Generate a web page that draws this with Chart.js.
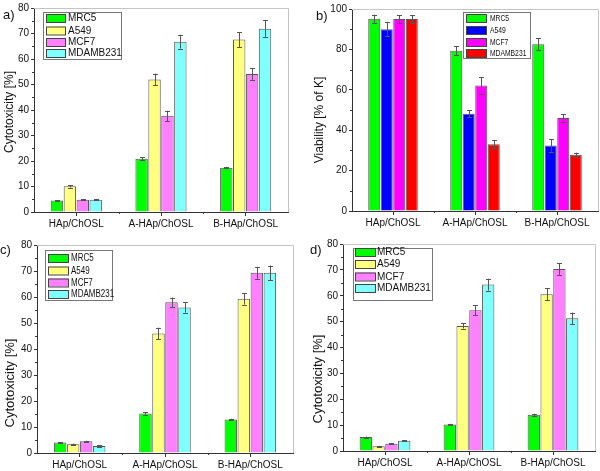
<!DOCTYPE html>
<html>
<head>
<meta charset="utf-8">
<script src="https://cdn.jsdelivr.net/npm/chart.js@4.4.1/dist/chart.umd.min.js"></script>
<style>
  html, body { margin:0; padding:0; background:#fff; }
  #wrap { position:relative; width:600px; height:471px; }
  .panel { position:absolute; }
  .panel canvas { display:block; }
</style>
</head>
<body>
<div id="wrap">
  <div class="panel" style="left:0;top:0"><canvas id="cA" width="300" height="235"></canvas></div>
  <div class="panel" style="left:300px;top:0"><canvas id="cB" width="300" height="235"></canvas></div>
  <div class="panel" style="left:0;top:235px"><canvas id="cC" width="300" height="236"></canvas></div>
  <div class="panel" style="left:300px;top:235px"><canvas id="cD" width="300" height="236"></canvas></div>
</div>
<script>
// ---------- Datos ----------
const categories = ["HAp/ChOSL", "A-HAp/ChOSL", "B-HAp/ChOSL"];
const cellLines  = ["MRC5", "A549", "MCF7", "MDAMB231"];

// colores
const cytoColors = ["#00ff00", "#ffff80", "#ff80ff", "#80ffff"];
const viabColors = ["#00ff00", "#0000ff", "#ff00ff", "#ff0000"];

// a) citotoxicidad [%]
const a_MRC5  = [4.5, 20.9, 17.4],  a_MRC5_err  = [0.2, 0.5, 0.3];
const a_A549  = [10.1, 52.0, 67.6], a_A549_err  = [0.5, 2.3, 3.0];
const a_MCF7  = [4.8, 37.7, 54.1],  a_MCF7_err  = [0.2, 2.0, 2.3];
const a_MDAMB = [4.8, 66.8, 71.9],  a_MDAMB_err = [0.2, 2.7, 3.2];

// b) viabilidad [% of K]
const b_MRC5  = [95.2, 79.3, 82.6], b_MRC5_err  = [2.0, 2.3, 3.0];
const b_A549  = [90.0, 48.1, 32.4], b_A549_err  = [3.5, 1.8, 3.0];
const b_MCF7  = [95.0, 62.1, 46.1], b_MCF7_err  = [2.0, 4.0, 1.8];
const b_MDAMB = [95.0, 33.0, 27.9], b_MDAMB_err = [2.0, 2.0, 1.0];

// c) citotoxicidad [%]
const c_MRC5  = [4.0, 15.2, 12.9], c_MRC5_err  = [0.2, 0.5, 0.3];
const c_A549  = [3.4, 46.0, 59.3], c_A549_err  = [0.2, 2.2, 2.2];
const c_MCF7  = [4.5, 58.0, 69.3], c_MCF7_err  = [0.2, 1.8, 2.3];
const c_MDAMB = [2.7, 56.0, 69.3], c_MDAMB_err = [0.2, 2.0, 2.8];

// d) citotoxicidad [%]
const d_MRC5  = [5.4, 10.2, 14.0], d_MRC5_err  = [0.2, 0.3, 0.4];
const d_A549  = [1.8, 48.3, 60.6], d_A549_err  = [0.2, 1.0, 2.3];
const d_MCF7  = [2.8, 54.4, 70.3], d_MCF7_err  = [0.2, 2.0, 2.2];
const d_MDAMB = [4.0, 64.3, 51.3], d_MDAMB_err = [0.2, 2.3, 2.2];

const yTicksCyto = [0, 10, 20, 30, 40, 50, 60, 70, 80];
const yTicksViab = [0, 20, 40, 60, 80, 100];

const FONT = "'Liberation Sans', Arial, sans-serif";

// ---------- Plugin: barras de error, marco, leyenda, títulos ----------
const decoPlugin = {
  id: "deco",
  afterDatasetsDraw(chart) {
    const ctx = chart.ctx, y = chart.scales.y;
    const errs = chart.options.plugins.deco.errors;
    ctx.save();
    ctx.strokeStyle = "#555";
    ctx.lineWidth = 1;
    chart.data.datasets.forEach((ds, i) => {
      const meta = chart.getDatasetMeta(i);
      meta.data.forEach((bar, j) => {
        const v = ds.data[j], e = errs[i][j];
        const x = Math.round(bar.x) + 0.5;
        const yt = y.getPixelForValue(v + e), yb = y.getPixelForValue(v - e);
        ctx.beginPath();
        ctx.moveTo(x, yt); ctx.lineTo(x, yb);
        ctx.moveTo(x - 2.5, Math.round(yt) + 0.5); ctx.lineTo(x + 2.5, Math.round(yt) + 0.5);
        ctx.moveTo(x - 2.5, Math.round(yb) + 0.5); ctx.lineTo(x + 2.5, Math.round(yb) + 0.5);
        ctx.stroke();
      });
    });
    ctx.restore();
  },
  afterDraw(chart) {
    const o = chart.options.plugins.deco;
    const ctx = chart.ctx, a = chart.chartArea, y = chart.scales.y, x = chart.scales.x;
    ctx.save();
    // marco superior y derecho
    ctx.strokeStyle = "#c4c4c4";
    ctx.lineWidth = 1;
    ctx.beginPath();
    ctx.moveTo(a.left, a.top + 0.5); ctx.lineTo(a.right + 0.5, a.top + 0.5);
    ctx.lineTo(a.right + 0.5, a.bottom);
    ctx.stroke();
    // ticks menores
    ctx.strokeStyle = "#333";
    ctx.beginPath();
    for (let v = o.minorStep; v < y.max; v += o.minorStep * 2) {
      const py = Math.round(y.getPixelForValue(v)) + 0.5;
      ctx.moveTo(a.left - 2, py); ctx.lineTo(a.left, py);
    }
    for (let j = 0; j < categories.length - 1; j++) {
      const px = Math.round((x.getPixelForValue(j) + x.getPixelForValue(j + 1)) / 2) + 0.5;
      ctx.moveTo(px, a.bottom); ctx.lineTo(px, a.bottom + 2);
    }
    ctx.stroke();
    // leyenda
    const L = o.legend;
    ctx.strokeStyle = "#777";
    ctx.fillStyle = "#fff";
    ctx.fillRect(L.x, L.y, L.w, L.h);
    ctx.strokeRect(L.x + 0.5, L.y + 0.5, L.w, L.h);
    chart.data.datasets.forEach((ds, i) => {
      const ry = L.rows[i];
      ctx.fillStyle = ds.backgroundColor;
      ctx.fillRect(L.sx, ry - 4, L.sw, 8);
      ctx.strokeStyle = "#444";
      ctx.strokeRect(L.sx + 0.5, ry - 4 + 0.5, L.sw, 8);
      ctx.save();
      ctx.translate(L.tx, ry);
      ctx.scale(L.sc, 1);
      ctx.fillStyle = "#111";
      ctx.font = L.font + "px " + FONT;
      ctx.textBaseline = "middle";
      ctx.textAlign = "left";
      ctx.fillText(ds.label, 0, 0.5);
      ctx.restore();
    });
    // título eje Y
    ctx.save();
    ctx.translate(o.yTitle.x, o.yTitle.y);
    ctx.rotate(-Math.PI / 2);
    ctx.fillStyle = "#111";
    ctx.font = o.yTitle.size + "px " + FONT;
    ctx.textAlign = "center";
    ctx.textBaseline = "middle";
    ctx.fillText(o.yTitle.text, 0, 0);
    ctx.restore();
    // etiqueta del panel
    ctx.fillStyle = "#111";
    ctx.font = "13px " + FONT;
    ctx.textAlign = "left";
    ctx.textBaseline = "middle";
    ctx.fillText(o.tag.text, o.tag.x, o.tag.y);
    ctx.restore();
  }
};

function makePanel(id, series, errors, colors, area, cfg) {
  const canvas = document.getElementById(id);
  const W = canvas.width, H = canvas.height;
  const datasets = series.map((d, i) => ({
    label: cellLines[i],
    data: d,
    backgroundColor: colors[i],
    borderColor: "#555",
    borderWidth: 1,
    categoryPercentage: 0.61,
    barPercentage: 0.96
  }));
  return new Chart(canvas, {
    type: "bar",
    data: { labels: categories, datasets },
    plugins: [decoPlugin],
    options: {
      responsive: false,
      animation: false,
      layout: { padding: { left: 0, top: area.top, right: W - area.right, bottom: 0 } },
      plugins: {
        legend: { display: false },
        tooltip: { enabled: false },
        deco: Object.assign({ errors }, cfg)
      },
      scales: {
        x: {
          type: "category",
          offset: true,
          afterFit: (s) => { s.height = H - area.bottom; },
          grid: { offset: false, drawOnChartArea: false, tickLength: 4, color: "#333" },
          border: { color: "#333", width: 1 },
          ticks: { font: { family: FONT, size: 10 }, color: "#111", padding: 2 }
        },
        y: {
          min: 0,
          max: cfg.yTicks[cfg.yTicks.length - 1],
          afterFit: (s) => { s.width = area.left; },
          afterBuildTicks: (s) => { s.ticks = cfg.yTicks.map(v => ({ value: v })); },
          grid: { drawOnChartArea: false, tickLength: 3, color: "#333" },
          border: { color: "#333", width: 1 },
          ticks: { font: { family: FONT, size: 10 }, color: "#111", padding: 2 }
        }
      }
    }
  });
}

// a)
makePanel("cA",
  [a_MRC5, a_A549, a_MCF7, a_MDAMB],
  [a_MRC5_err, a_A549_err, a_MCF7_err, a_MDAMB_err],
  cytoColors,
  { left: 34, top: 5, right: 288, bottom: 212 },
  { yTicks: yTicksCyto, minorStep: 5,
    yTitle: { text: "Cytotoxicity [%]", x: 10, y: 112, size: 12 },
    tag: { text: "a)", x: 3, y: 15 },
    legend: { x: 43, y: 12, w: 78, h: 47, sx: 46, sw: 19, tx: 68, sc: 1, font: 10, rows: [18, 30.5, 42, 53] } });

// b)
makePanel("cB",
  [b_MRC5, b_A549, b_MCF7, b_MDAMB],
  [b_MRC5_err, b_A549_err, b_MCF7_err, b_MDAMB_err],
  viabColors,
  { left: 52, top: 9, right: 298, bottom: 211 },
  { yTicks: yTicksViab, minorStep: 10,
    yTitle: { text: "Viability [% of K]", x: 20, y: 120, size: 12 },
    tag: { text: "b)", x: 16, y: 16 },
    legend: { x: 163, y: 12, w: 67, h: 46, sx: 166, sw: 20, tx: 190, sc: 0.75, font: 9, rows: [18, 30, 42, 53] } });

// c)
makePanel("cC",
  [c_MRC5, c_A549, c_MCF7, c_MDAMB],
  [c_MRC5_err, c_A549_err, c_MCF7_err, c_MDAMB_err],
  cytoColors,
  { left: 37, top: 10, right: 293, bottom: 218 },
  { yTicks: yTicksCyto, minorStep: 5,
    yTitle: { text: "Cytotoxicity [%]", x: 10, y: 148, size: 13 },
    tag: { text: "c)", x: 0, y: 15 },
    legend: { x: 45, y: 15, w: 67, h: 50, sx: 48, sw: 20, tx: 71, sc: 0.8, font: 10, rows: [23, 35.5, 47.5, 59] } });

// d)
makePanel("cD",
  [d_MRC5, d_A549, d_MCF7, d_MDAMB],
  [d_MRC5_err, d_A549_err, d_MCF7_err, d_MDAMB_err],
  cytoColors,
  { left: 43, top: 9, right: 295, bottom: 216 },
  { yTicks: yTicksCyto, minorStep: 5,
    yTitle: { text: "Cytotoxicity [%]", x: 18, y: 144, size: 13 },
    tag: { text: "d)", x: 10, y: 15 },
    legend: { x: 53, y: 13, w: 79, h: 52, sx: 55, sw: 20, tx: 77, sc: 1, font: 10, rows: [17, 29, 41.5, 53] } });
</script>
</body>
</html>
